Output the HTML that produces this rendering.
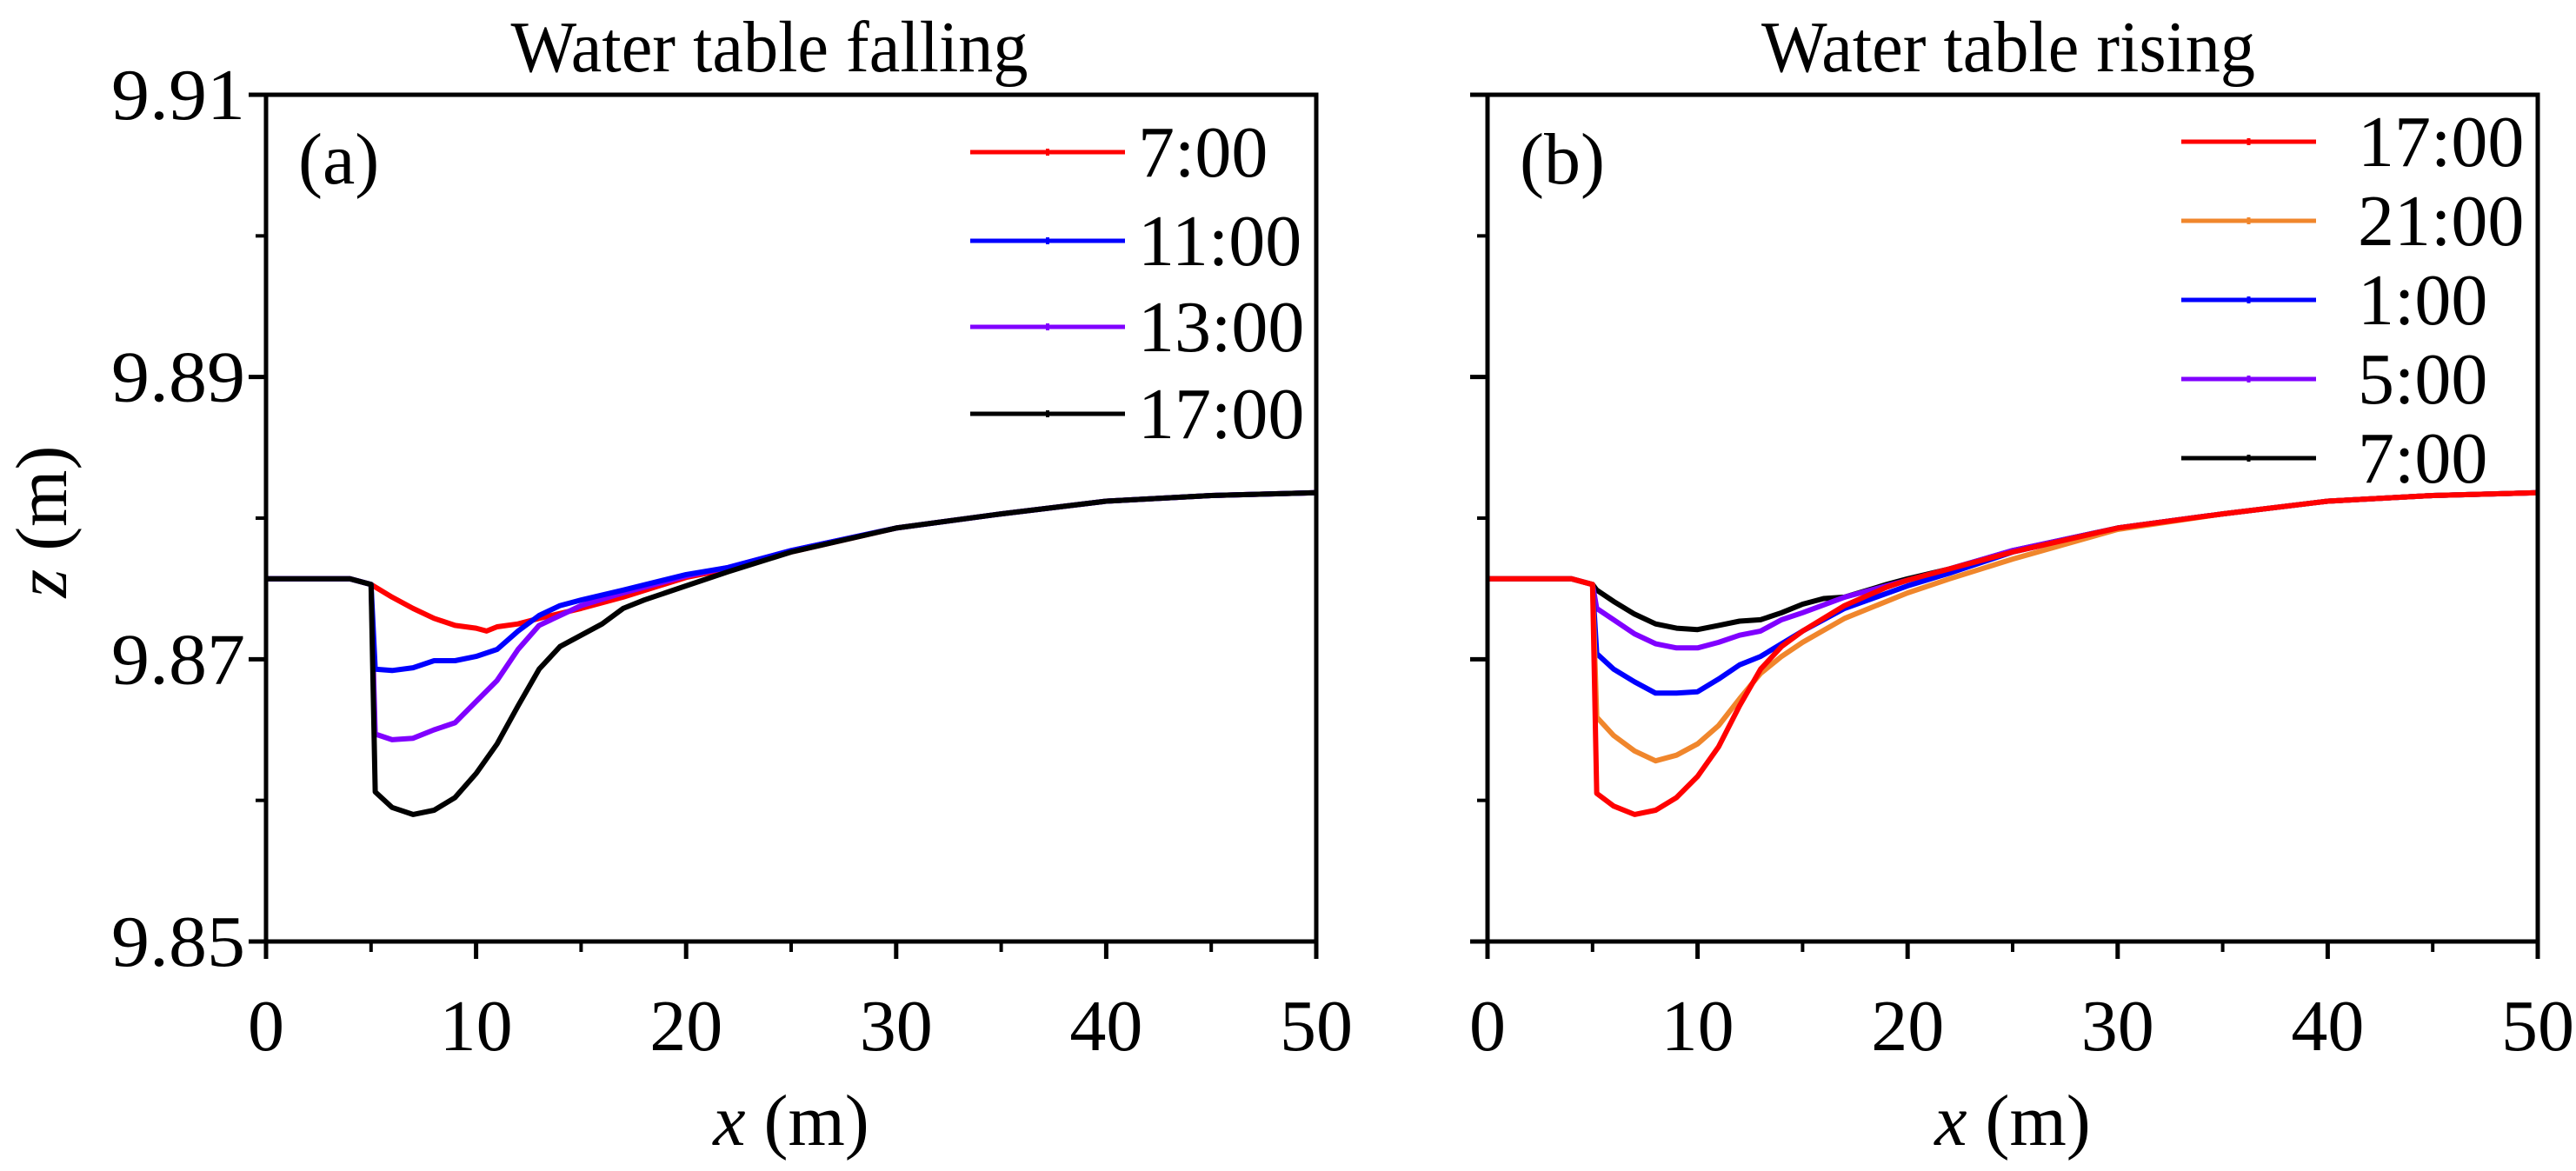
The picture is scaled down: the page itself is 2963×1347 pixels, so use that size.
<!DOCTYPE html>
<html><head><meta charset="utf-8"><style>
html,body{margin:0;padding:0;background:#fff;}
svg{display:block;}
</style></head><body>
<svg id="chart" width="2963" height="1347" viewBox="0 0 2963 1347" xmlns="http://www.w3.org/2000/svg">
<g id="root" font-family="'Liberation Serif', serif" fill="#000"></g>
</svg>
<script>
// ---- data ----
const xA_red = [0,1,2,3,4,5,6,7,8,9,10,10.5,11,12,13,15,17,20,22,25,30,35,40,45,50];
const zA_red = [9.8757,9.8757,9.8757,9.8757,9.8757,9.8753,9.8744,9.8736,9.8729,9.8724,9.8722,9.8720,9.8723,9.8725,9.8729,9.8736,9.8744,9.8758,9.8764,9.8776,9.8793,9.8803,9.8812,9.8816,9.8818];
const xA_blue = [0,1,2,3,4,5,5.2,6,7,8,9,10,11,12,13,14,15,17,20,22,25,30,35,40,45,50];
const zA_blue = [9.8757,9.8757,9.8757,9.8757,9.8757,9.8753,9.8693,9.8692,9.8694,9.8699,9.8699,9.8702,9.8707,9.8720,9.8731,9.8738,9.8742,9.8749,9.8760,9.8765,9.8777,9.8793,9.8803,9.8812,9.8816,9.8818];
const xA_purple = [0,1,2,3,4,5,5.2,6,7,8,9,10,11,12,13,14,15,17,20,22,25,30,35,40,45,50];
const zA_purple = [9.8757,9.8757,9.8757,9.8757,9.8757,9.8753,9.8647,9.8643,9.8644,9.8650,9.8655,9.8670,9.8685,9.8707,9.8724,9.8731,9.8738,9.8747,9.8759,9.8765,9.8777,9.8793,9.8803,9.8812,9.8816,9.8818];
const xA_black = [0,1,2,3,4,5,5.2,6,7,8,9,10,11,12,13,14,15,16,17,18,20,22,25,30,35,40,45,50];
const zA_black = [9.8757,9.8757,9.8757,9.8757,9.8757,9.8753,9.8606,9.8595,9.8590,9.8593,9.8602,9.8619,9.8640,9.8667,9.8693,9.8709,9.8717,9.8725,9.8736,9.8742,9.8752,9.8762,9.8776,9.8793,9.8803,9.8812,9.8816,9.8818];

const xB_black = [0,1,2,3,4,5,5.2,6,7,8,9,10,11,12,13,14,15,16,17,19,20,22,25,30,35,40,45,50];
const zB_black = [9.8757,9.8757,9.8757,9.8757,9.8757,9.8753,9.8749,9.8741,9.8732,9.8725,9.8722,9.8721,9.8724,9.8727,9.8728,9.8733,9.8739,9.8743,9.8744,9.8753,9.8757,9.8764,9.8777,9.8793,9.8803,9.8812,9.8816,9.8818];
const xB_purple = [0,1,2,3,4,5,5.2,6,7,8,9,10,11,12,13,14,15,17,20,22,25,30,35,40,45,50];
const zB_purple = [9.8757,9.8757,9.8757,9.8757,9.8757,9.8753,9.8736,9.8728,9.8718,9.8711,9.8708,9.8708,9.8712,9.8717,9.8720,9.8728,9.8733,9.8744,9.8756,9.8764,9.8777,9.8793,9.8803,9.8812,9.8816,9.8818];
const xB_blue = [0,1,2,3,4,5,5.2,6,7,8,9,10,11,12,13,15,17,20,22,25,30,35,40,45,50];
const zB_blue = [9.8757,9.8757,9.8757,9.8757,9.8757,9.8753,9.8704,9.8693,9.8684,9.8676,9.8676,9.8677,9.8686,9.8696,9.8702,9.8720,9.8736,9.8752,9.8761,9.8776,9.8793,9.8803,9.8812,9.8816,9.8818];
const xB_orange = [0,1,2,3,4,5,5.2,6,7,8,9,10,11,12,13,14,15,17,20,22,25,30,35,40,45,50];
const zB_orange = [9.8757,9.8757,9.8757,9.8757,9.8757,9.8753,9.8659,9.8646,9.8635,9.8628,9.8632,9.8640,9.8653,9.8672,9.8690,9.8702,9.8712,9.8729,9.8747,9.8757,9.8771,9.8792,9.8803,9.8812,9.8816,9.8818];
const xB_red = [0,1,2,3,4,5,5.2,6,7,8,9,10,11,12,13,14,15,17,19,20,22,25,30,35,40,45,50];
const zB_red = [9.8757,9.8757,9.8757,9.8757,9.8757,9.8753,9.8605,9.8596,9.8590,9.8593,9.8602,9.8617,9.8638,9.8667,9.8693,9.8709,9.8720,9.8738,9.8751,9.8756,9.8764,9.8776,9.8793,9.8803,9.8812,9.8816,9.8818];

const xTicks = [0,10,20,30,40,50];
const xTickLabels = ["0","10","20","30","40","50"];
const xMinor = [5,15,25,35,45];
const yTicks = [9.85,9.87,9.89,9.91];
const yTickLabels = ["9.85","9.87","9.89","9.91"];
const yMinor = [9.86,9.88,9.90];
const legendA = ["7:00","11:00","13:00","17:00"];
const legendB = ["17:00","21:00","1:00","5:00","7:00"];

// ---- drawing ----
const NS="http://www.w3.org/2000/svg";
const root=document.getElementById('root');
function mk(tag,attrs,parent){const e=document.createElementNS(NS,tag);for(const k in attrs)e.setAttribute(k,attrs[k]);(parent||root).appendChild(e);return e;}
const plotTop=109, plotBot=1083;
const FS=84;
function yS(z){return plotTop+(9.91-z)/0.06*(plotBot-plotTop);}
function panel(id,left,right,title,titleLen,titleX,tag,showYLabels,series,leg){
  const g=mk('g',{});
  
  
  const xS=x=>left+x/50*(right-left);
  series.forEach(s=>{
    const pts=s.x.map((v,i)=>xS(v).toFixed(1)+','+yS(s.z[i]).toFixed(1)).join(' ');
    const pl=mk('polyline',{points:pts,fill:'none',stroke:s.c,'stroke-width':6,'stroke-linejoin':'round'},g);
    
    
  });
  const fr=mk('rect',{x:left,y:plotTop,width:right-left,height:plotBot-plotTop,fill:'none',stroke:'#000','stroke-width':5},g);
  
  
  xTicks.forEach((t,i)=>{
    mk('line',{x1:xS(t),x2:xS(t),y1:plotBot,y2:plotBot+20,stroke:'#000','stroke-width':5},g);
    const tx=mk('text',{x:xS(t),y:1208,'font-size':FS,'text-anchor':'middle'},g);
    tx.textContent=xTickLabels[i];
    
    
  });
  xMinor.forEach(t=>mk('line',{x1:xS(t),x2:xS(t),y1:plotBot,y2:plotBot+12,stroke:'#000','stroke-width':4},g));
  yTicks.forEach((t,i)=>{
    mk('line',{x1:left-20,x2:left,y1:yS(t),y2:yS(t),stroke:'#000','stroke-width':5},g);
    if(showYLabels){
      const tx=mk('text',{x:282,y:yS(t)+28,'font-size':FS,'text-anchor':'end',textLength:154,lengthAdjust:'spacingAndGlyphs'},g);
      tx.textContent=yTickLabels[i];
      
      
    }
  });
  yMinor.forEach(t=>mk('line',{x1:left-12,x2:left,y1:yS(t),y2:yS(t),stroke:'#000','stroke-width':4},g));
  const ti=mk('text',{x:titleX,y:82,'font-size':FS,'text-anchor':'middle',textLength:titleLen,lengthAdjust:'spacingAndGlyphs'},g);
  ti.textContent=title;
  
  
  const tg=mk('text',{x:left+37,y:211,'font-size':FS},g);
  tg.textContent=tag;
  
  
  const xt=mk('text',{x:(left+right)/2,y:1317,'font-size':FS,'text-anchor':'middle'},g);
  xt.innerHTML='<tspan font-style="italic">x</tspan> (m)';
  
  
  leg.labels.forEach((lab,i)=>{
    const y=leg.rows[i];
    const c=leg.colors[i];
    const le=mk('g',{},g);
    
    
    mk('line',{x1:leg.x1,x2:leg.x2,y1:y,y2:y,stroke:c,'stroke-width':5},le);
    mk('rect',{x:(leg.x1+leg.x2)/2-2,y:y-4,width:4,height:8,fill:c},le);
    const t=mk('text',{x:leg.tx,y:y+28,'font-size':FS},le);
    t.textContent=lab;
  });
}
panel('a',306,1514,'Water table falling',595,885,'(a)',true,[
  {n:'7:00',x:xA_red,z:zA_red,c:'#ff0000'},
  {n:'13:00',x:xA_purple,z:zA_purple,c:'#8000ff'},
  {n:'11:00',x:xA_blue,z:zA_blue,c:'#0000ff'},
  {n:'17:00',x:xA_black,z:zA_black,c:'#000000'}
],{labels:legendA,rows:[175,277,376,476],colors:['#ff0000','#0000ff','#8000ff','#000000'],x1:1116,x2:1294,tx:1309});
panel('b',1711,2919,'Water table rising',568,2310,'(b)',false,[
  {n:'7:00',x:xB_black,z:zB_black,c:'#000000'},
  {n:'5:00',x:xB_purple,z:zB_purple,c:'#8000ff'},
  {n:'1:00',x:xB_blue,z:zB_blue,c:'#0000ff'},
  {n:'21:00',x:xB_orange,z:zB_orange,c:'#f0862c'},
  {n:'17:00',x:xB_red,z:zB_red,c:'#ff0000'}
],{labels:legendB,rows:[163,254,345,436,527],colors:['#ff0000','#f0862c','#0000ff','#8000ff','#000000'],x1:2509,x2:2664,tx:2712});
const yt=mk('text',{x:0,y:0,'font-size':FS,'text-anchor':'middle',transform:'translate(76,600) rotate(-90)'});
yt.innerHTML='<tspan font-style="italic">z</tspan> (m)';


</script>
</body></html>
